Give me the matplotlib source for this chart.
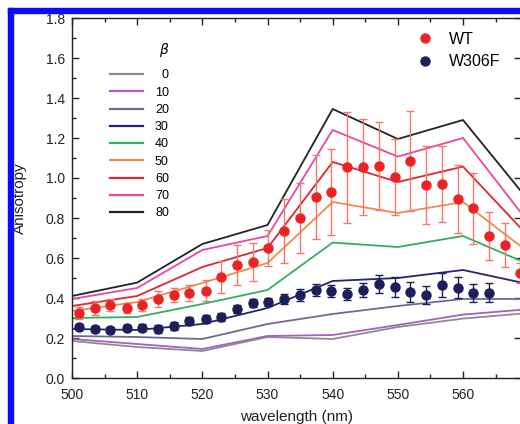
import numpy as np
import matplotlib.pyplot as plt
from matplotlib.lines import Line2D
from matplotlib.patches import Rectangle
from matplotlib.ticker import MultipleLocator

plt.rcParams['font.family'] = ['Liberation Sans', 'DejaVu Sans']

# theory curves, one per beta angle
wl_theory = [500, 510, 520, 530, 540, 550, 560, 570]
b0 = [0.185, 0.155, 0.135, 0.205, 0.195, 0.255, 0.297, 0.325]
b10 = [0.195, 0.17, 0.145, 0.21, 0.215, 0.265, 0.317, 0.344]
b20 = [0.21, 0.205, 0.195, 0.27, 0.32, 0.36, 0.395, 0.395]
b30 = [0.245, 0.24, 0.27, 0.35, 0.485, 0.50, 0.54, 0.47]
b40 = [0.30, 0.305, 0.37, 0.44, 0.677, 0.655, 0.71, 0.57]
b50 = [0.335, 0.38, 0.475, 0.575, 0.88, 0.825, 0.88, 0.63]
b60 = [0.36, 0.41, 0.555, 0.65, 1.08, 0.98, 1.057, 0.71]
b70 = [0.395, 0.45, 0.64, 0.71, 1.24, 1.107, 1.20, 0.78]
b80 = [0.41, 0.477, 0.67, 0.765, 1.345, 1.195, 1.29, 0.89]
beta_labels = ['0', '10', '20', '30', '40', '50', '60', '70', '80']
beta_colors = ['#8c8c8c', '#a65fc4', '#6e6a8e', '#23256e', '#35ad62',
               '#f28a4f', '#e3262c', '#e848a4', '#222222']

# measured points
wl_pts = [501.1, 503.5, 505.9, 508.4, 510.8, 513.2, 515.6, 518.0, 520.5, 522.9,
          525.3, 527.7, 530.1, 532.6, 535.0, 537.4, 539.8, 542.2, 544.7, 547.1,
          549.5, 551.9, 554.3, 556.8, 559.2, 561.6, 564.0, 566.4, 568.8]
wt = [0.327, 0.348, 0.363, 0.35, 0.367, 0.397, 0.413, 0.423, 0.437, 0.506,
      0.564, 0.582, 0.652, 0.735, 0.798, 0.907, 0.93, 1.053, 1.053, 1.06,
      1.003, 1.085, 0.965, 0.97, 0.895, 0.848, 0.712, 0.667, 0.525]
wt_err = [0.03, 0.035, 0.03, 0.025, 0.03, 0.04, 0.035, 0.04, 0.054, 0.08,
          0.1, 0.095, 0.09, 0.16, 0.175, 0.21, 0.216, 0.278, 0.24, 0.22,
          0.19, 0.25, 0.197, 0.19, 0.17, 0.177, 0.12, 0.11, 0.05]
w306 = [0.257, 0.245, 0.24, 0.25, 0.252, 0.247, 0.258, 0.287, 0.293, 0.303,
        0.343, 0.377, 0.382, 0.393, 0.413, 0.44, 0.435, 0.418, 0.44, 0.468,
        0.457, 0.43, 0.417, 0.465, 0.452, 0.425, 0.427]
w306_err = [0.015, 0.015, 0.015, 0.015, 0.018, 0.02, 0.02, 0.02, 0.02, 0.02,
            0.02, 0.02, 0.02, 0.025, 0.03, 0.03, 0.03, 0.03, 0.033, 0.045,
            0.05, 0.05, 0.045, 0.058, 0.054, 0.046, 0.048]

fig = plt.figure(figsize=(5.2, 4.24), dpi=100)
W, H = 520, 424
ax = fig.add_axes([72 / W, (H - 378) / H, (521 - 72) / W, 360 / H])

curves = [b0, b10, b20, b30, b40, b50, b60, b70, b80]
handles = []
for vals, lab, col in zip(curves, beta_labels, beta_colors):
    ax.plot(wl_theory, vals, color=col, lw=1.3, zorder=2)
    handles.append(Line2D([], [], color=col, lw=1.6, label=lab.rjust(2, '\u2007')))

ax.errorbar(wl_pts, wt, yerr=wt_err, fmt='none', ecolor='#f07a6a', elinewidth=1,
            capsize=3, capthick=1, zorder=3)
ax.plot(wl_pts, wt, 'o', color='#ec2324', ms=6.5, zorder=4)
ax.errorbar(wl_pts[:len(w306)], w306, yerr=w306_err, fmt='none', ecolor='#1d1f5a',
            elinewidth=1, capsize=3, capthick=1, zorder=3)
ax.plot(wl_pts[:len(w306)], w306, 'o', color='#1d1f5a', ms=6.5, zorder=4)

ax.set_xlim(500, 568.9)
ax.set_ylim(0, 1.8)
ax.xaxis.set_major_locator(MultipleLocator(10))
ax.xaxis.set_minor_locator(MultipleLocator(5))
ax.yaxis.set_major_locator(MultipleLocator(0.2))
ax.yaxis.set_minor_locator(MultipleLocator(0.1))
ax.yaxis.set_major_formatter(lambda v, p: f'{v:.1f}')
ax.tick_params(which='both', direction='in', top=True, right=True, labelsize=10,
               width=1, color='#222222', labelcolor='#222222')
ax.tick_params(which='major', length=5, pad=5)
ax.tick_params(axis='x', which='major', pad=7)
ax.tick_params(which='minor', length=3)
ax.tick_params(axis='y', which='minor', right=False)
for s in ax.spines.values():
    s.set_linewidth(1)
    s.set_color('#222222')

ax.set_xlabel('wavelength (nm)', fontsize=11, color='#222222', labelpad=6)
ax.set_ylabel('Anisotropy', fontsize=11, color='#222222')
ax.yaxis.set_label_coords(-0.1, 0.5)

leg1 = ax.legend(handles=handles, title='$\\beta$', loc='upper left',
                 bbox_to_anchor=((110 - 72) / 449, (378 - 41) / 360),
                 frameon=False, fontsize=9, title_fontsize=10, handlelength=2.6,
                 handletextpad=1.0, labelspacing=0.42, borderpad=0,
                 borderaxespad=0, alignment='right')
leg1._legend_box.sep = 7.5
ax.add_artist(leg1)

pt_handles = [Line2D([], [], ls='none', marker='o', color='#ec2324', ms=6.5, label='WT'),
              Line2D([], [], ls='none', marker='o', color='#1d1f5a', ms=6.5, label='W306F')]
ax.legend(handles=pt_handles, loc='upper left',
          bbox_to_anchor=((419 - 72) / 449, (378 - 32) / 360), frameon=False,
          fontsize=11.5, handlelength=0.8, handletextpad=1.1, labelspacing=0.45,
          borderpad=0, borderaxespad=0)

# blue frame round the figure
fig.add_artist(Rectangle((8 / W, 0), 5 / W, (H - 8) / H, transform=fig.transFigure,
                         color='#0a0aff', zorder=10))
fig.add_artist(Rectangle((8 / W, (H - 13) / H), (W - 8) / W, 5 / H,
                         transform=fig.transFigure, color='#0a0aff', zorder=10))

fig.savefig('out.png', dpi=100)
